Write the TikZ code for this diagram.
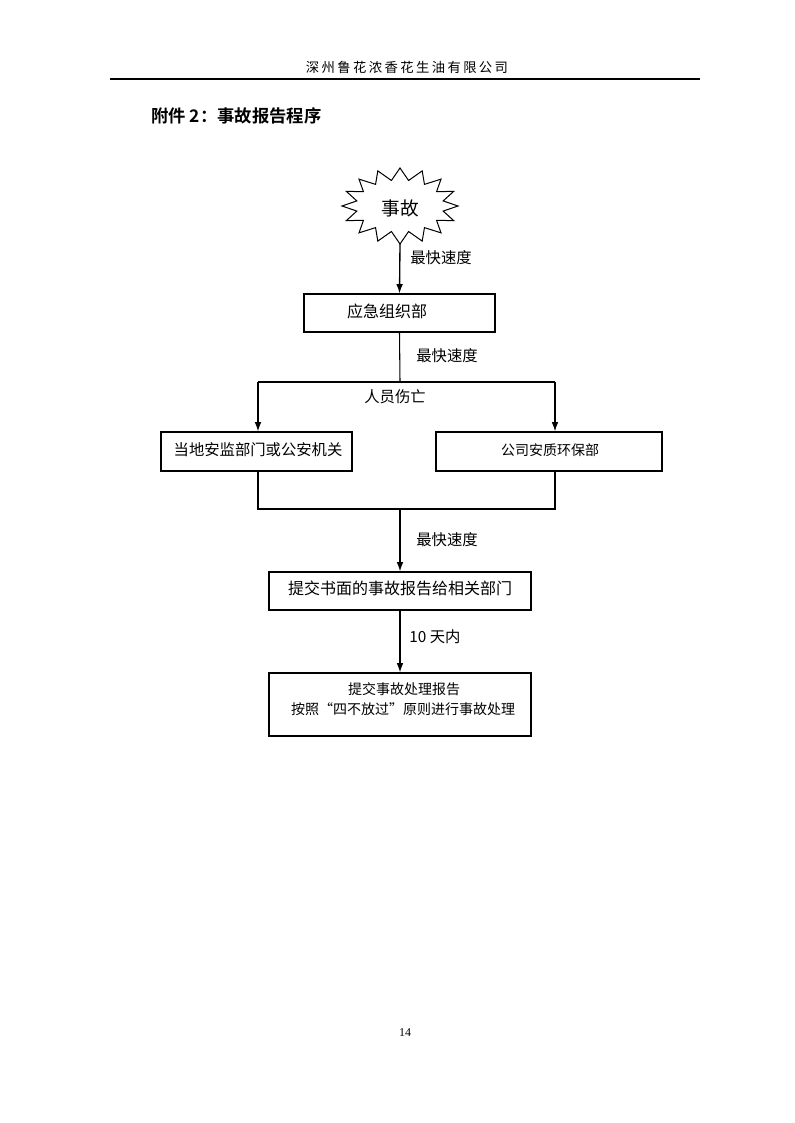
\documentclass[tikz,border=0pt]{standalone}
\usepackage{fontspec}
\setmainfont{Liberation Serif}
\newfontfamily\cjk{Noto Sans CJK SC}
\newfontfamily\cjkb{Noto Sans CJK SC Bold}
\newfontfamily\cjkhead[LetterSpace=18]{Noto Sans CJK SC}
\usetikzlibrary{arrows.meta}
\tikzset{
  box/.style={draw, line width=0.8pt, inner sep=0pt},
  txt/.style={inner sep=0pt, font=\cjk\fontsize{11.5pt}{14pt}\selectfont},
  conn/.style={line width=0.8pt},
  arr/.style={line width=1pt, -{Latex[length=7pt,width=5pt]}}
}
\begin{document}
\begin{tikzpicture}[x=0.75pt, y=-0.75pt]
\useasboundingbox (0,0) rectangle (794,1123);
% header
\node[inner sep=0pt, font=\cjkhead\fontsize{10pt}{12pt}\selectfont] (head) at (407,67) {深州鲁花浓香花生油有限公司};
\coordinate (hl) at (110,79);
\coordinate (hr) at (700,79);
\draw[line width=0.9pt] (hl) -- (hr);
% title
\node[inner sep=0pt, anchor=west, font=\cjkb\fontsize{13pt}{15pt}\selectfont] (title) at (151,116) {附件 2：事故报告程序};
% starburst
\draw[line width=0.75pt] plot[samples at={0,...,31}, variable=\i]
  ({400+ifthenelse(mod(\i,2)==0,58,44)*cos(\i*360/32+90)},
   {206+ifthenelse(mod(\i,2)==0,38,26)*sin(\i*360/32+90)}) -- cycle;
\node[inner sep=0pt, font=\cjk\fontsize{14pt}{16pt}\selectfont] (acc) at (400,208) {事故};
\coordinate (accb) at (400,244);
% box 1
\node[box, minimum width=143.25pt, minimum height=28.5pt] (b1) at (399.5,313) {};
\node[txt, font=\cjk\fontsize{12pt}{14pt}\selectfont] (t1) at (387,311) {应急组织部};
\draw[arr] (accb) -- (b1.north);
\node[txt] (l1) at (441,258) {最快速度};
% split
\coordinate (s0) at (400,382);
\coordinate (sl) at (258,382);
\coordinate (sr) at (555,382);
\draw[conn] (b1.south) -- (s0);
\draw[conn] (sl) -- (sr);
\node[txt] (l2) at (447,356) {最快速度};
\node[txt] (l3) at (395,397) {人员伤亡};
% left / right boxes
\node[box, minimum width=143.25pt, minimum height=29.25pt] (bl) at (256.5,451.5) {};
\node[txt] (tl) at (258,450) {当地安监部门或公安机关};
\node[box, minimum width=169.5pt, minimum height=29.25pt] (br) at (549,451.5) {};
\node[txt, font=\cjk\fontsize{10.5pt}{12pt}\selectfont] (tr) at (550,450) {公司安质环保部};
\draw[arr] (sl) -- (sl |- bl.north);
\draw[arr] (sr) -- (sr |- br.north);
% merge
\coordinate (ml) at (258,509);
\coordinate (mr) at (555,509);
\coordinate (m0) at (400,509);
\draw[conn] (ml |- bl.south) -- (ml) -- (mr) -- (mr |- br.south);
% box 4
\node[box, minimum width=196.5pt, minimum height=28.5pt] (b4) at (400,591) {};
\node[txt, font=\cjk\fontsize{12pt}{14pt}\selectfont] (t4) at (400,588) {提交书面的事故报告给相关部门};
\draw[arr] (m0) -- (b4.north);
\node[txt] (l4) at (447,540) {最快速度};
% box 5
\node[box, minimum width=196.5pt, minimum height=47.25pt] (b5) at (400,704.5) {};
\node[txt, font=\cjk\fontsize{10.5pt}{12pt}\selectfont] (t5a) at (404,689) {提交事故处理报告};
\node[txt, font=\cjk\fontsize{10.5pt}{12pt}\selectfont] (t5b) at (403,709) {按照“四不放过”原则进行事故处理};
\draw[arr] (b4.south) -- (b5.north);
\node[txt] (l5) at (435,637) {10 天内};
% page number
\node[inner sep=0pt, font=\fontsize{9pt}{11pt}\selectfont] (pg) at (405,1033) {14};
\end{tikzpicture}
\end{document}
